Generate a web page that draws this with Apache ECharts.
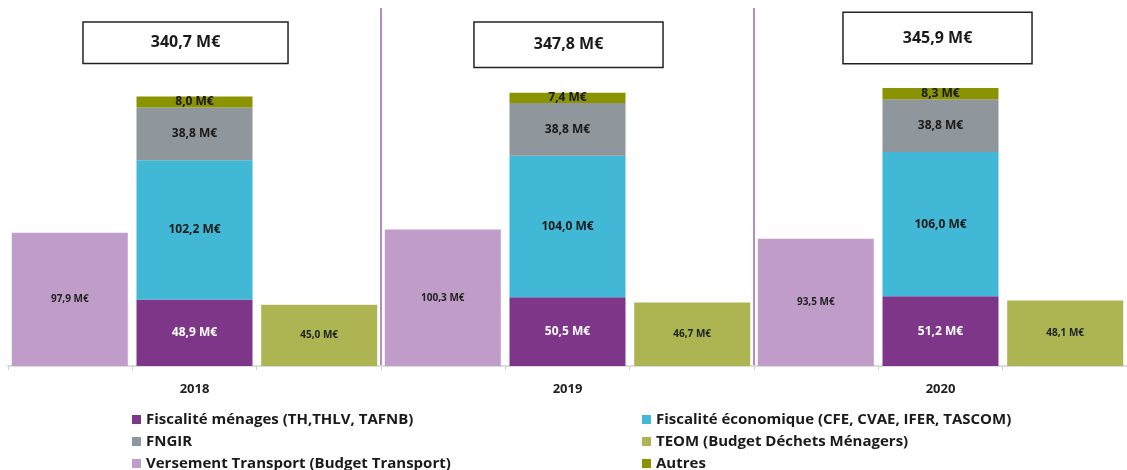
<!DOCTYPE html>
<html>
<head>
<meta charset="utf-8">
<script src="https://cdn.jsdelivr.net/npm/echarts@6/dist/echarts.min.js"></script>
<style>
  html, body { margin: 0; padding: 0; background: #fff; }
  #chart { width: 1127px; height: 470px; }
</style>
</head>
<body>
<div id="chart"></div>
<script>
// données (M€)
const years = ['2018', '2019', '2020'];
const slots = ['', '', '', '', '', '', '', '', ''];
const versementTransport = [97.9, 100.3, 93.5];
const fiscaliteMenages = [48.9, 50.5, 51.2];
const fiscaliteEco = [102.2, 104.0, 106.0];
const fngir = [38.8, 38.8, 38.8];
const autres = [8.0, 7.4, 8.3];
const teom = [45.0, 46.7, 48.1];
const totals = [340.7, 347.8, 345.9];
// hauteur des cadres "total" sur l'axe des valeurs
const totalBoxLevel = [237.5, 236, 241];

const fr = v => v.toFixed(1).replace('.', ',') + ' M€';
const font = 'Open Sans';

const chart = echarts.init(document.getElementById('chart'));

const bigLabel = (color) => ({
  show: true,
  position: 'inside',
  formatter: p => fr(p.value),
  color: color,
  fontFamily: font,
  fontWeight: 'bold',
  fontSize: 12
});
const smallLabel = {
  show: true,
  position: 'inside',
  formatter: p => fr(p.value),
  color: '#222',
  fontFamily: font,
  fontWeight: 'bold',
  fontSize: 10
};

// cadres des totaux : tailles et décalages un peu différents par année
const boxPad = [[12, 67], [14, 59], [17, 59]];
const boxOff = [[-9, 0], [1, 0], [-3, 0]];

const legendText = { fontFamily: font, fontWeight: 'bold', fontSize: 15, color: '#1a1a1a', lineHeight: 14 };

chart.setOption({
  animation: false,
  grid: { left: 8, right: 0, top: 8, bottom: 104 },
  xAxis: [
    {
      type: 'category',
      data: years,
      axisLine: { lineStyle: { color: '#dcdcdc', width: 2 } },
      axisTick: { show: false },
      axisLabel: {
        color: '#222', fontFamily: font, fontWeight: 'bold', fontSize: 13, margin: 17
      },
      splitLine: {
        show: true,
        showMinLine: false,
        showMaxLine: false,
        lineStyle: { color: '#b58cc8', width: 2 }
      }
    },
    {
      type: 'category',
      data: slots,
      position: 'bottom',
      axisLine: { show: false },
      axisTick: { show: true, length: 4, lineStyle: { color: '#d0d0d0' } },
      axisLabel: { show: false }
    }
  ],
  yAxis: {
    type: 'value',
    min: 0,
    max: 263,
    show: false,
    splitLine: { show: false }
  },
  legend: [
    {
      left: 132, top: 412, height: 90, orient: 'vertical', padding: 0,
      itemWidth: 9, itemHeight: 9, itemGap: 7,
      icon: 'rect',
      textStyle: legendText,
      data: ['Fiscalité ménages (TH,THLV, TAFNB)', 'FNGIR', 'Versement Transport (Budget Transport)']
    },
    {
      left: 642, top: 412, height: 90, orient: 'vertical', padding: 0,
      itemWidth: 9, itemHeight: 9, itemGap: 7,
      icon: 'rect',
      textStyle: legendText,
      data: ['Fiscalité économique (CFE, CVAE, IFER, TASCOM)', 'TEOM (Budget Déchets Ménagers)', 'Autres']
    }
  ],
  series: [
    {
      name: 'Versement Transport (Budget Transport)',
      type: 'bar',
      data: versementTransport,
      barWidth: 116,
      barGap: '7.5%',
      itemStyle: { color: '#c09cc8' },
      label: smallLabel
    },
    {
      name: 'Fiscalité ménages (TH,THLV, TAFNB)',
      type: 'bar',
      stack: 'fisc',
      data: fiscaliteMenages,
      barWidth: 116,
      itemStyle: { color: '#7e3689' },
      label: bigLabel('#fff')
    },
    {
      name: 'Fiscalité économique (CFE, CVAE, IFER, TASCOM)',
      type: 'bar',
      stack: 'fisc',
      data: fiscaliteEco,
      barWidth: 116,
      itemStyle: { color: '#41b8d5' },
      label: bigLabel('#1a1a1a')
    },
    {
      name: 'FNGIR',
      type: 'bar',
      stack: 'fisc',
      data: fngir,
      barWidth: 116,
      itemStyle: { color: '#8f969c' },
      label: bigLabel('#1a1a1a')
    },
    {
      name: 'Autres',
      type: 'bar',
      stack: 'fisc',
      data: autres,
      barWidth: 116,
      itemStyle: { color: '#8a9400' },
      label: bigLabel('#1a1a1a')
    },
    {
      name: 'TEOM (Budget Déchets Ménagers)',
      type: 'bar',
      data: teom,
      barWidth: 116,
      barGap: '7.5%',
      itemStyle: { color: '#acb551' },
      label: smallLabel
    },
    {
      name: 'total',
      type: 'scatter',
      symbolSize: 0,
      z: 10,
      itemStyle: { opacity: 1 },
      data: totals.map((t, i) => ({
        value: [years[i], totalBoxLevel[i]],
        label: { padding: boxPad[i], offset: boxOff[i] }
      })),
      label: {
        show: true,
        position: 'inside',
        formatter: p => fr(totals[p.dataIndex]),
        color: '#1a1a1a',
        fontFamily: font,
        fontWeight: 'bold',
        fontSize: 16,
        backgroundColor: '#fff',
        borderColor: '#222',
        borderWidth: 1.5
      },
      tooltip: { show: false }
    }
  ]
});
</script>
</body>
</html>
